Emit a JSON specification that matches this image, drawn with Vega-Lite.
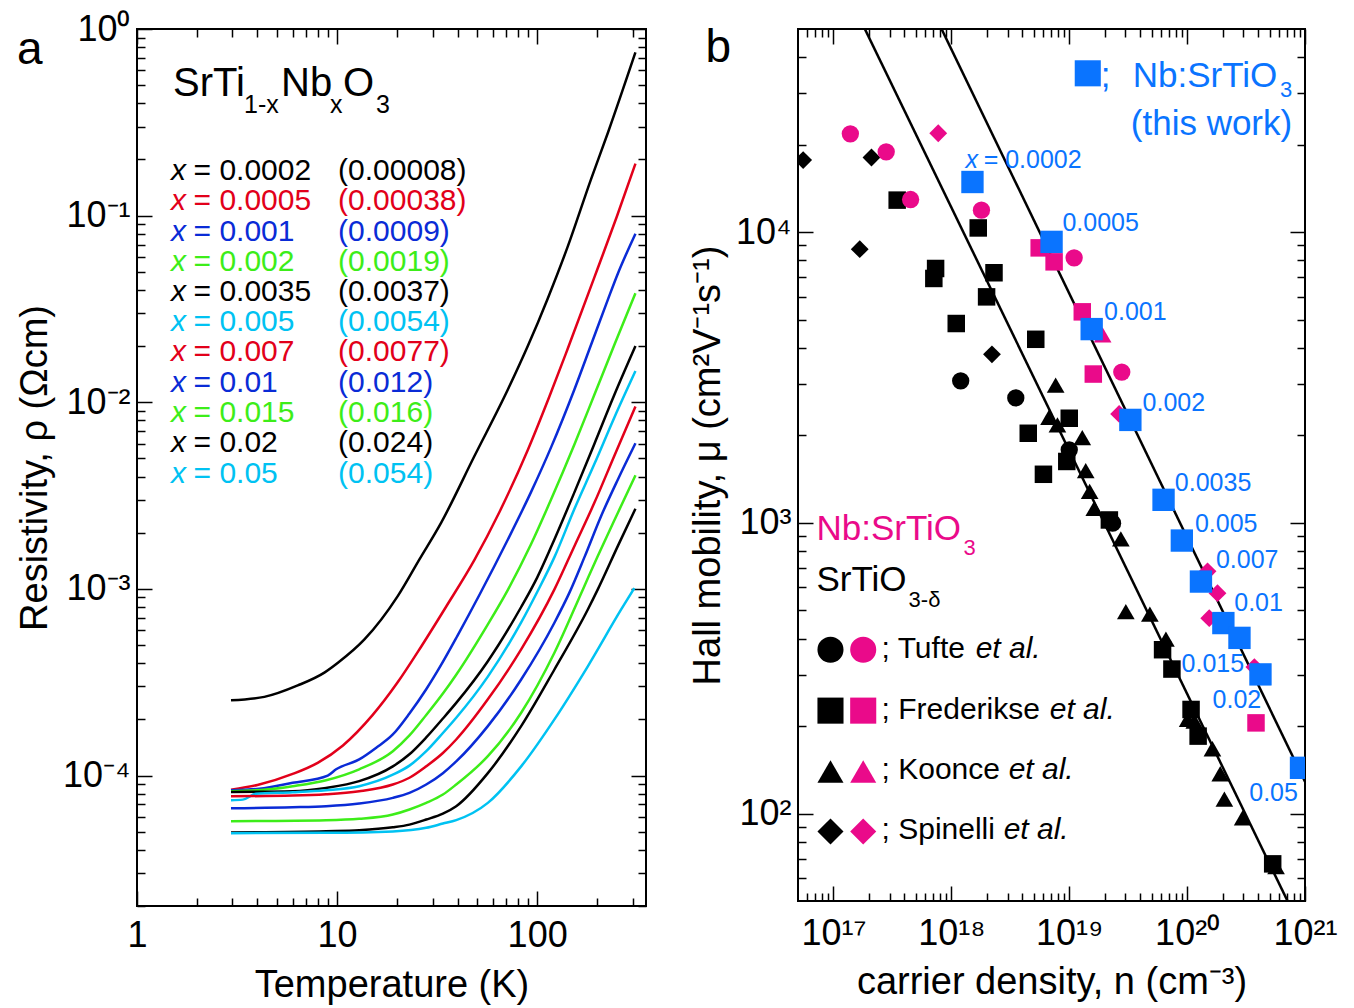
{
  "$schema": "https://vega.github.io/schema/vega-lite/v6.json",
  "background": "white",
  "padding": {"left": 15, "top": 10, "right": 5, "bottom": 5},
  "spacing": 40,
  "resolve": {"scale": {"color": "independent", "shape": "independent", "size": "independent"}},
  "config": {
    "font": "Liberation Sans",
    "view": {"stroke": "black", "strokeWidth": 2},
    "axis": {"labelFont": "Liberation Sans", "titleFont": "Liberation Sans", "labelFontSize": 36, "titleFontSize": 38, "titleFontWeight": "normal", "labelColor": "black", "titleColor": "black", "tickColor": "black", "tickWidth": 1.5, "grid": false, "domain": false, "labelOverlap": false, "labelFlush": false},
    "text": {"font": "Liberation Sans"}
  },
  "datasets": {
    "curves": [
      {"s": "0.0002", "T": 2.95, "rho": 2.53e-4}, {"s": "0.0002", "T": 4.33, "rho": 2.64e-4}, {"s": "0.0002", "T": 6.36, "rho": 3.04e-4}, {"s": "0.0002", "T": 8.64, "rho": 3.56e-4}, {"s": "0.0002", "T": 10.1, "rho": 4.02e-4}, {"s": "0.0002", "T": 13.7, "rho": 5.36e-4}, {"s": "0.0002", "T": 20.1, "rho": 9.15e-4}, {"s": "0.0002", "T": 25.8, "rho": 1.44e-3}, {"s": "0.0002", "T": 33.1, "rho": 2.26e-3}, {"s": "0.0002", "T": 48.6, "rho": 5.15e-3}, {"s": "0.0002", "T": 71.4, "rho": 0.0117}, {"s": "0.0002", "T": 89.8, "rho": 0.0200}, {"s": "0.0002", "T": 100.8, "rho": 0.0267}, {"s": "0.0002", "T": 113, "rho": 0.036}, {"s": "0.0002", "T": 142, "rho": 0.068}, {"s": "0.0002", "T": 186, "rho": 0.157}, {"s": "0.0002", "T": 226, "rho": 0.279}, {"s": "0.0002", "T": 310, "rho": 0.750},
      {"s": "0.0005", "T": 2.95, "rho": 8.4e-5}, {"s": "0.0005", "T": 4, "rho": 8.9e-5}, {"s": "0.0005", "T": 6, "rho": 1.02e-4}, {"s": "0.0005", "T": 8, "rho": 1.17e-4}, {"s": "0.0005", "T": 10.7, "rho": 1.45e-4}, {"s": "0.0005", "T": 15, "rho": 2.1e-4}, {"s": "0.0005", "T": 20, "rho": 3.14e-4}, {"s": "0.0005", "T": 26.3, "rho": 4.9e-4}, {"s": "0.0005", "T": 35, "rho": 8.0e-4}, {"s": "0.0005", "T": 48.6, "rho": 1.43e-3}, {"s": "0.0005", "T": 65, "rho": 2.6e-3}, {"s": "0.0005", "T": 89.8, "rho": 5.55e-3}, {"s": "0.0005", "T": 115, "rho": 0.0107}, {"s": "0.0005", "T": 142, "rho": 0.0193}, {"s": "0.0005", "T": 200, "rho": 0.0516}, {"s": "0.0005", "T": 250, "rho": 0.0986}, {"s": "0.0005", "T": 310, "rho": 0.19},
      {"s": "0.001", "T": 2.95, "rho": 8.34e-5}, {"s": "0.001", "T": 4.09, "rho": 8.49e-5}, {"s": "0.001", "T": 6.0, "rho": 9.14e-5}, {"s": "0.001", "T": 8.98, "rho": 1.0e-4}, {"s": "0.001", "T": 9.89, "rho": 1.08e-4}, {"s": "0.001", "T": 12.9, "rho": 1.22e-4}, {"s": "0.001", "T": 15.7, "rho": 1.41e-4}, {"s": "0.001", "T": 19.0, "rho": 1.66e-4}, {"s": "0.001", "T": 23.0, "rho": 2.15e-4}, {"s": "0.001", "T": 27.9, "rho": 2.9e-4}, {"s": "0.001", "T": 33, "rho": 3.89e-4}, {"s": "0.001", "T": 40, "rho": 5.62e-4}, {"s": "0.001", "T": 51.5, "rho": 9.3e-4}, {"s": "0.001", "T": 71.4, "rho": 1.84e-3}, {"s": "0.001", "T": 93.3, "rho": 3.31e-3}, {"s": "0.001", "T": 117.5, "rho": 5.75e-3}, {"s": "0.001", "T": 153.7, "rho": 0.01175}, {"s": "0.001", "T": 186.2, "rho": 0.0204}, {"s": "0.001", "T": 225.7, "rho": 0.0355}, {"s": "0.001", "T": 253.3, "rho": 0.049}, {"s": "0.001", "T": 310, "rho": 0.08},
      {"s": "0.002", "T": 2.95, "rho": 8.25e-5}, {"s": "0.002", "T": 4.42, "rho": 8.41e-5}, {"s": "0.002", "T": 6.0, "rho": 8.77e-5}, {"s": "0.002", "T": 8.81, "rho": 9.44e-5}, {"s": "0.002", "T": 12.9, "rho": 1.08e-4}, {"s": "0.002", "T": 19.0, "rho": 1.35e-4}, {"s": "0.002", "T": 23.0, "rho": 1.64e-4}, {"s": "0.002", "T": 27.9, "rho": 2.11e-4}, {"s": "0.002", "T": 33.8, "rho": 2.75e-4}, {"s": "0.002", "T": 39.4, "rho": 3.47e-4}, {"s": "0.002", "T": 56.7, "rho": 6.46e-4}, {"s": "0.002", "T": 71.4, "rho": 9.89e-4}, {"s": "0.002", "T": 93.3, "rho": 1.74e-3}, {"s": "0.002", "T": 117.5, "rho": 3.02e-3}, {"s": "0.002", "T": 153.7, "rho": 5.96e-3}, {"s": "0.002", "T": 193.4, "rho": 0.011}, {"s": "0.002", "T": 243.5, "rho": 0.0204}, {"s": "0.002", "T": 310, "rho": 0.0384},
      {"s": "0.0035", "T": 2.95, "rho": 8.17e-5}, {"s": "0.0035", "T": 6.0, "rho": 8.24e-5}, {"s": "0.0035", "T": 8.81, "rho": 8.59e-5}, {"s": "0.0035", "T": 12.9, "rho": 9.33e-5}, {"s": "0.0035", "T": 19.0, "rho": 1.12e-4}, {"s": "0.0035", "T": 23.0, "rho": 1.30e-4}, {"s": "0.0035", "T": 27.9, "rho": 1.60e-4}, {"s": "0.0035", "T": 33.8, "rho": 2.02e-4}, {"s": "0.0035", "T": 39.4, "rho": 2.45e-4}, {"s": "0.0035", "T": 56.7, "rho": 4.1e-4}, {"s": "0.0035", "T": 83.2, "rho": 8.0e-4}, {"s": "0.0035", "T": 100, "rho": 1.15e-3}, {"s": "0.0035", "T": 117.5, "rho": 1.68e-3}, {"s": "0.0035", "T": 153.7, "rho": 3.3e-3}, {"s": "0.0035", "T": 193.4, "rho": 6.0e-3}, {"s": "0.0035", "T": 243.5, "rho": 0.011}, {"s": "0.0035", "T": 310, "rho": 0.0200},
      {"s": "0.005", "T": 2.95, "rho": 7.38e-5}, {"s": "0.005", "T": 3.38, "rho": 7.43e-5}, {"s": "0.005", "T": 3.93, "rho": 7.98e-5}, {"s": "0.005", "T": 6.0, "rho": 8.13e-5}, {"s": "0.005", "T": 8.81, "rho": 8.34e-5}, {"s": "0.005", "T": 12.9, "rho": 8.77e-5}, {"s": "0.005", "T": 19.0, "rho": 1.01e-4}, {"s": "0.005", "T": 23.0, "rho": 1.13e-4}, {"s": "0.005", "T": 27.9, "rho": 1.35e-4}, {"s": "0.005", "T": 33.8, "rho": 1.69e-4}, {"s": "0.005", "T": 39.4, "rho": 2.04e-4}, {"s": "0.005", "T": 56.7, "rho": 3.39e-4}, {"s": "0.005", "T": 83.2, "rho": 6.61e-4}, {"s": "0.005", "T": 100.8, "rho": 9.77e-4}, {"s": "0.005", "T": 122, "rho": 1.48e-3}, {"s": "0.005", "T": 153.7, "rho": 2.69e-3}, {"s": "0.005", "T": 193.4, "rho": 4.68e-3}, {"s": "0.005", "T": 243.5, "rho": 8.32e-3}, {"s": "0.005", "T": 310, "rho": 0.0147},
      {"s": "0.007", "T": 2.95, "rho": 7.74e-5}, {"s": "0.007", "T": 6.0, "rho": 7.81e-5}, {"s": "0.007", "T": 8.81, "rho": 7.94e-5}, {"s": "0.007", "T": 12.9, "rho": 8.24e-5}, {"s": "0.007", "T": 19.0, "rho": 8.95e-5}, {"s": "0.007", "T": 23.0, "rho": 9.73e-5}, {"s": "0.007", "T": 27.9, "rho": 1.12e-4}, {"s": "0.007", "T": 33.8, "rho": 1.32e-4}, {"s": "0.007", "T": 39.4, "rho": 1.56e-4}, {"s": "0.007", "T": 56.7, "rho": 2.56e-4}, {"s": "0.007", "T": 83.2, "rho": 4.74e-4}, {"s": "0.007", "T": 122, "rho": 9.94e-4}, {"s": "0.007", "T": 153.7, "rho": 1.70e-3}, {"s": "0.007", "T": 193.4, "rho": 2.90e-3}, {"s": "0.007", "T": 243.5, "rho": 5.19e-3}, {"s": "0.007", "T": 310, "rho": 9.48e-3},
      {"s": "0.01", "T": 2.95, "rho": 6.68e-5}, {"s": "0.01", "T": 6.0, "rho": 6.76e-5}, {"s": "0.01", "T": 8.81, "rho": 6.85e-5}, {"s": "0.01", "T": 12.9, "rho": 7.08e-5}, {"s": "0.01", "T": 19.0, "rho": 7.59e-5}, {"s": "0.01", "T": 23.0, "rho": 8.07e-5}, {"s": "0.01", "T": 27.9, "rho": 8.95e-5}, {"s": "0.01", "T": 33.8, "rho": 1.03e-4}, {"s": "0.01", "T": 39.4, "rho": 1.19e-4}, {"s": "0.01", "T": 56.7, "rho": 1.84e-4}, {"s": "0.01", "T": 83.2, "rho": 3.27e-4}, {"s": "0.01", "T": 122, "rho": 6.59e-4}, {"s": "0.01", "T": 145, "rho": 9.55e-4}, {"s": "0.01", "T": 172.4, "rho": 1.48e-3}, {"s": "0.01", "T": 208.9, "rho": 2.46e-3}, {"s": "0.01", "T": 253.3, "rho": 3.86e-3}, {"s": "0.01", "T": 310, "rho": 6.03e-3},
      {"s": "0.015", "T": 2.95, "rho": 5.69e-5}, {"s": "0.015", "T": 8.81, "rho": 5.76e-5}, {"s": "0.015", "T": 12.9, "rho": 5.86e-5}, {"s": "0.015", "T": 19.0, "rho": 6.18e-5}, {"s": "0.015", "T": 23.0, "rho": 6.58e-5}, {"s": "0.015", "T": 27.9, "rho": 7.14e-5}, {"s": "0.015", "T": 33.8, "rho": 7.91e-5}, {"s": "0.015", "T": 39.4, "rho": 8.95e-5}, {"s": "0.015", "T": 56.7, "rho": 1.27e-4}, {"s": "0.015", "T": 83.2, "rho": 2.17e-4}, {"s": "0.015", "T": 122, "rho": 4.55e-4}, {"s": "0.015", "T": 169.3, "rho": 9.94e-4}, {"s": "0.015", "T": 201, "rho": 1.50e-3}, {"s": "0.015", "T": 253.3, "rho": 2.56e-3}, {"s": "0.015", "T": 310, "rho": 4.06e-3},
      {"s": "0.02", "T": 2.95, "rho": 4.95e-5}, {"s": "0.02", "T": 8.81, "rho": 5.03e-5}, {"s": "0.02", "T": 12.9, "rho": 5.09e-5}, {"s": "0.02", "T": 19.0, "rho": 5.28e-5}, {"s": "0.02", "T": 23.0, "rho": 5.46e-5}, {"s": "0.02", "T": 27.9, "rho": 5.81e-5}, {"s": "0.02", "T": 33.8, "rho": 6.25e-5}, {"s": "0.02", "T": 39.4, "rho": 6.85e-5}, {"s": "0.02", "T": 56.7, "rho": 1.03e-4}, {"s": "0.02", "T": 83.2, "rho": 1.84e-4}, {"s": "0.02", "T": 122, "rho": 3.70e-4}, {"s": "0.02", "T": 179.2, "rho": 7.76e-4}, {"s": "0.02", "T": 201, "rho": 9.94e-4}, {"s": "0.02", "T": 253.3, "rho": 1.70e-3}, {"s": "0.02", "T": 310, "rho": 2.69e-3},
      {"s": "0.05", "T": 2.95, "rho": 4.91e-5}, {"s": "0.05", "T": 8.81, "rho": 4.93e-5}, {"s": "0.05", "T": 19.0, "rho": 5.02e-5}, {"s": "0.05", "T": 27.9, "rho": 5.25e-5}, {"s": "0.05", "T": 33.8, "rho": 5.53e-5}, {"s": "0.05", "T": 39.4, "rho": 5.77e-5}, {"s": "0.05", "T": 56.7, "rho": 7.14e-5}, {"s": "0.05", "T": 83.2, "rho": 1.12e-4}, {"s": "0.05", "T": 122, "rho": 2.0e-4}, {"s": "0.05", "T": 179.2, "rho": 3.85e-4}, {"s": "0.05", "T": 263, "rho": 7.76e-4}, {"s": "0.05", "T": 306, "rho": 1.01e-3}
    ],
    "titleA": [
      {"text": "SrTi", "T": 1.514, "rho": 0.4357},
      {"text": "Nb", "T": 5.248, "rho": 0.4357},
      {"text": "O", "T": 10.72, "rho": 0.4357}
    ],
    "titleAsub": [
      {"text": "1-x", "T": 3.428, "rho": 0.3544},
      {"text": "x", "T": 9.226, "rho": 0.3544},
      {"text": "3", "T": 15.67, "rho": 0.3544}
    ],
    "legA": [
      {"s": "0.0002", "eq": "= 0.0002", "paren": "(0.00008)", "Tx": 1.479, "Teq": 1.917, "Tp": 10.12, "rho": 0.1550},
      {"s": "0.0005", "eq": "= 0.0005", "paren": "(0.00038)", "Tx": 1.479, "Teq": 1.917, "Tp": 10.12, "rho": 0.1070},
      {"s": "0.001", "eq": "= 0.001", "paren": "(0.0009)", "Tx": 1.479, "Teq": 1.917, "Tp": 10.12, "rho": 0.07301},
      {"s": "0.002", "eq": "= 0.002", "paren": "(0.0019)", "Tx": 1.479, "Teq": 1.917, "Tp": 10.12, "rho": 0.05041},
      {"s": "0.0035", "eq": "= 0.0035", "paren": "(0.0037)", "Tx": 1.479, "Teq": 1.917, "Tp": 10.12, "rho": 0.03479},
      {"s": "0.005", "eq": "= 0.005", "paren": "(0.0054)", "Tx": 1.479, "Teq": 1.917, "Tp": 10.12, "rho": 0.02403},
      {"s": "0.007", "eq": "= 0.007", "paren": "(0.0077)", "Tx": 1.479, "Teq": 1.917, "Tp": 10.12, "rho": 0.01659},
      {"s": "0.01", "eq": "= 0.01", "paren": "(0.012)", "Tx": 1.479, "Teq": 1.917, "Tp": 10.12, "rho": 0.01131},
      {"s": "0.015", "eq": "= 0.015", "paren": "(0.016)", "Tx": 1.479, "Teq": 1.917, "Tp": 10.12, "rho": 0.007812},
      {"s": "0.02", "eq": "= 0.02", "paren": "(0.024)", "Tx": 1.479, "Teq": 1.917, "Tp": 10.12, "rho": 0.005394},
      {"s": "0.05", "eq": "= 0.05", "paren": "(0.054)", "Tx": 1.479, "Teq": 1.917, "Tp": 10.12, "rho": 0.003678}
    ],
    "labelA": [{"text": "a", "T": 0.2512, "rho": 0.6494}],
    "fits": [
      {"fit": "SrTiO3-δ", "n": 1e17, "mu": 83500}, {"fit": "SrTiO3-δ", "n": 1e21, "mu": 37.6},
      {"fit": "Nb:SrTiO3", "n": 3.162e17, "mu": 112000}, {"fit": "Nb:SrTiO3", "n": 1e21, "mu": 128.6}
    ],
    "lit": [
      {"src": "Spinelli", "mat": "SrTiO3-δ", "n": 5.53e16, "mu": 17700}, {"src": "Spinelli", "mat": "SrTiO3-δ", "n": 2.10e17, "mu": 18070}, {"src": "Spinelli", "mat": "SrTiO3-δ", "n": 1.67e17, "mu": 8740}, {"src": "Spinelli", "mat": "SrTiO3-δ", "n": 2.21e18, "mu": 3800},
      {"src": "Tufte", "mat": "SrTiO3-δ", "n": 1.20e18, "mu": 3080}, {"src": "Tufte", "mat": "SrTiO3-δ", "n": 3.52e18, "mu": 2690}, {"src": "Tufte", "mat": "SrTiO3-δ", "n": 1.0e19, "mu": 1783}, {"src": "Tufte", "mat": "SrTiO3-δ", "n": 2.33e19, "mu": 997},
      {"src": "Frederikse", "mat": "SrTiO3-δ", "n": 3.47e17, "mu": 12890}, {"src": "Frederikse", "mat": "SrTiO3-δ", "n": 1.69e18, "mu": 10340}, {"src": "Frederikse", "mat": "SrTiO3-δ", "n": 7.35e17, "mu": 7500}, {"src": "Frederikse", "mat": "SrTiO3-δ", "n": 7.1e17, "mu": 6930}, {"src": "Frederikse", "mat": "SrTiO3-δ", "n": 2.30e18, "mu": 7250}, {"src": "Frederikse", "mat": "SrTiO3-δ", "n": 1.99e18, "mu": 5990}, {"src": "Frederikse", "mat": "SrTiO3-δ", "n": 1.10e18, "mu": 4850}, {"src": "Frederikse", "mat": "SrTiO3-δ", "n": 5.2e18, "mu": 4280}, {"src": "Frederikse", "mat": "SrTiO3-δ", "n": 1.0e19, "mu": 2290}, {"src": "Frederikse", "mat": "SrTiO3-δ", "n": 4.49e18, "mu": 2033}, {"src": "Frederikse", "mat": "SrTiO3-δ", "n": 9.53e18, "mu": 1626}, {"src": "Frederikse", "mat": "SrTiO3-δ", "n": 6.04e18, "mu": 1469}, {"src": "Frederikse", "mat": "SrTiO3-δ", "n": 2.19e19, "mu": 1023}, {"src": "Frederikse", "mat": "SrTiO3-δ", "n": 6.19e19, "mu": 366}, {"src": "Frederikse", "mat": "SrTiO3-δ", "n": 7.43e19, "mu": 314}, {"src": "Frederikse", "mat": "SrTiO3-δ", "n": 1.08e20, "mu": 228}, {"src": "Frederikse", "mat": "SrTiO3-δ", "n": 1.24e20, "mu": 184.6},
      {"src": "Koonce", "mat": "SrTiO3-δ", "n": 7.67e18, "mu": 2979}, {"src": "Koonce", "mat": "SrTiO3-δ", "n": 6.74e18, "mu": 2308}, {"src": "Koonce", "mat": "SrTiO3-δ", "n": 7.94e18, "mu": 2172}, {"src": "Koonce", "mat": "SrTiO3-δ", "n": 1.29e19, "mu": 1965}, {"src": "Koonce", "mat": "SrTiO3-δ", "n": 1.38e19, "mu": 1513}, {"src": "Koonce", "mat": "SrTiO3-δ", "n": 1.49e19, "mu": 1282}, {"src": "Koonce", "mat": "SrTiO3-δ", "n": 1.63e19, "mu": 1121}, {"src": "Koonce", "mat": "SrTiO3-δ", "n": 2.74e19, "mu": 880}, {"src": "Koonce", "mat": "SrTiO3-δ", "n": 3.02e19, "mu": 495}, {"src": "Koonce", "mat": "SrTiO3-δ", "n": 4.83e19, "mu": 485}, {"src": "Koonce", "mat": "SrTiO3-δ", "n": 6.61e19, "mu": 398}, {"src": "Koonce", "mat": "SrTiO3-δ", "n": 1.01e20, "mu": 211}, {"src": "Koonce", "mat": "SrTiO3-δ", "n": 1.15e20, "mu": 208}, {"src": "Koonce", "mat": "SrTiO3-δ", "n": 1.64e20, "mu": 167}, {"src": "Koonce", "mat": "SrTiO3-δ", "n": 1.91e20, "mu": 137}, {"src": "Koonce", "mat": "SrTiO3-δ", "n": 2.07e20, "mu": 112}, {"src": "Koonce", "mat": "SrTiO3-δ", "n": 2.96e20, "mu": 96.7}, {"src": "Koonce", "mat": "SrTiO3-δ", "n": 5.68e20, "mu": 65.6},
      {"src": "Frederikse", "mat": "SrTiO3-δ", "n": 5.32e20, "mu": 67.1},
      {"src": "Tufte", "mat": "Nb:SrTiO3", "n": 1.39e17, "mu": 21800}, {"src": "Tufte", "mat": "Nb:SrTiO3", "n": 2.80e17, "mu": 18900}, {"src": "Tufte", "mat": "Nb:SrTiO3", "n": 4.51e17, "mu": 12950}, {"src": "Tufte", "mat": "Nb:SrTiO3", "n": 1.80e18, "mu": 11900}, {"src": "Tufte", "mat": "Nb:SrTiO3", "n": 1.10e19, "mu": 8160}, {"src": "Tufte", "mat": "Nb:SrTiO3", "n": 2.79e19, "mu": 3300},
      {"src": "Frederikse", "mat": "Nb:SrTiO3", "n": 5.56e18, "mu": 8830}, {"src": "Frederikse", "mat": "Nb:SrTiO3", "n": 7.44e18, "mu": 7905}, {"src": "Frederikse", "mat": "Nb:SrTiO3", "n": 1.29e19, "mu": 5320}, {"src": "Frederikse", "mat": "Nb:SrTiO3", "n": 1.60e19, "mu": 3250}, {"src": "Frederikse", "mat": "Nb:SrTiO3", "n": 3.84e20, "mu": 205},
      {"src": "Koonce", "mat": "Nb:SrTiO3", "n": 1.92e19, "mu": 4430},
      {"src": "Spinelli", "mat": "Nb:SrTiO3", "n": 7.74e17, "mu": 21900}, {"src": "Spinelli", "mat": "Nb:SrTiO3", "n": 2.65e19, "mu": 2370}, {"src": "Spinelli", "mat": "Nb:SrTiO3", "n": 1.49e20, "mu": 681}, {"src": "Spinelli", "mat": "Nb:SrTiO3", "n": 1.81e20, "mu": 573}, {"src": "Spinelli", "mat": "Nb:SrTiO3", "n": 1.54e20, "mu": 470}, {"src": "Spinelli", "mat": "Nb:SrTiO3", "n": 3.72e20, "mu": 319}
    ],
    "thiswork": [
      {"x": "0.0002", "n": 1.51e18, "mu": 14880}, {"x": "0.0005", "n": 7.08e18, "mu": 9260}, {"x": "0.001", "n": 1.55e19, "mu": 4640}, {"x": "0.002", "n": 3.30e19, "mu": 2260}, {"x": "0.0035", "n": 6.31e19, "mu": 1200}, {"x": "0.005", "n": 9.02e19, "mu": 869}, {"x": "0.007", "n": 1.31e20, "mu": 628}, {"x": "0.01", "n": 2.03e20, "mu": 452}, {"x": "0.015", "n": 2.78e20, "mu": 402}, {"x": "0.02", "n": 4.19e20, "mu": 301}, {"x": "0.05", "n": 9.25e20, "mu": 143.6}
    ],
    "legmarks": [
      {"src": "Tufte", "mat": "SrTiO3-δ", "n": 9.43e16, "mu": 366.1}, {"src": "Tufte", "mat": "Nb:SrTiO3", "n": 1.787e17, "mu": 366.1},
      {"src": "Frederikse", "mat": "SrTiO3-δ", "n": 9.43e16, "mu": 225.9}, {"src": "Frederikse", "mat": "Nb:SrTiO3", "n": 1.787e17, "mu": 225.9},
      {"src": "Koonce", "mat": "SrTiO3-δ", "n": 9.43e16, "mu": 139.4}, {"src": "Koonce", "mat": "Nb:SrTiO3", "n": 1.787e17, "mu": 139.4},
      {"src": "Spinelli", "mat": "SrTiO3-δ", "n": 9.43e16, "mu": 86.75}, {"src": "Spinelli", "mat": "Nb:SrTiO3", "n": 1.787e17, "mu": 86.75},
      {"src": "this work", "mat": "this work", "n": 1.436e19, "mu": 35200}
    ],
    "bluex": [{"text": "x", "n": 1.321e18, "mu": 16640}],
    "bluelab": [
      {"text": "= 0.0002", "n": 1.879e18, "mu": 16640}, {"text": "0.0005", "n": 8.75e18, "mu": 10080}, {"text": "0.001", "n": 1.975e19, "mu": 4985}, {"text": "0.002", "n": 4.19e19, "mu": 2426}, {"text": "0.0035", "n": 7.87e19, "mu": 1291}, {"text": "0.005", "n": 1.164e20, "mu": 933}, {"text": "0.007", "n": 1.755e20, "mu": 699}, {"text": "0.01", "n": 2.51e20, "mu": 495.5}, {"text": "0.015", "n": 8.97e19, "mu": 305.9}, {"text": "0.02", "n": 1.644e20, "mu": 230.8}, {"text": "0.05", "n": 3.365e20, "mu": 110.2}
    ],
    "bigtext": [
      {"text": ";", "mat": "this work", "n": 1.851e19, "mu": 31580}, {"text": "Nb:SrTiO", "mat": "this work", "n": 3.46e19, "mu": 31580}, {"text": "(this work)", "mat": "this work", "n": 3.327e19, "mu": 21544},
      {"text": "Nb:SrTiO", "mat": "Nb:SrTiO3", "n": 7.17e16, "mu": 874.3}, {"text": "SrTiO", "mat": "SrTiO3-δ", "n": 7.17e16, "mu": 583.9}
    ],
    "subtext": [
      {"text": "3", "mat": "this work", "n": 6.133e20, "mu": 29100}, {"text": "3", "mat": "Nb:SrTiO3", "n": 1.27e18, "mu": 776.3}, {"text": "3-δ", "mat": "SrTiO3-δ", "n": 4.335e17, "mu": 514.4}
    ],
    "legtext": [
      {"text": "; Tufte", "n": 2.556e17, "mu": 342.8}, {"text": "; Frederikse", "n": 2.556e17, "mu": 211.5}, {"text": "; Koonce", "n": 2.556e17, "mu": 131.6}, {"text": "; Spinelli", "n": 2.556e17, "mu": 81.4}
    ],
    "etal": [
      {"text": "et al.", "n": 1.607e18, "mu": 342.8}, {"text": "et al.", "n": 6.83e18, "mu": 211.5}, {"text": "et al.", "n": 3.063e18, "mu": 131.6}, {"text": "et al.", "n": 2.778e18, "mu": 81.4}
    ],
    "labelB": [{"text": "b", "n": 8.19e15, "mu": 38370}]
  },
  "hconcat": [
    {
      "width": 509,
      "height": 877,
      "resolve": {"axis": {"x": "independent", "y": "independent"}},
      "layer": [
        {
          "data": {"name": "curves"},
          "mark": {"type": "line", "strokeWidth": 2.5, "interpolate": "monotone", "clip": true},
          "encoding": {
            "x": {"field": "T", "type": "quantitative", "scale": {"type": "log", "domain": [1, 350], "nice": false},
                  "axis": {"orient": "bottom", "values": [1, 10, 100], "tickSize": -15, "labelPadding": 27, "labelExpr": "format(datum.value, 'd')", "title": "Temperature (K)", "titlePadding": 13}},
            "y": {"field": "rho", "type": "quantitative", "scale": {"type": "log", "domain": [2e-5, 1], "nice": false},
                  "axis": {"orient": "left", "values": [0.0001, 0.001, 0.01, 0.1, 1], "tickSize": -15, "labelPadding": 22, "labelExpr": "'10' + ['⁻⁴','⁻³','⁻²','⁻¹','⁰'][round(log(datum.value)/LN10) + 4]", "title": "Resistivity, ρ (Ωcm)", "titlePadding": 8}},
            "color": {"field": "s", "type": "nominal", "legend": null,
                      "scale": {"domain": ["0.0002", "0.0005", "0.001", "0.002", "0.0035", "0.005", "0.007", "0.01", "0.015", "0.02", "0.05"],
                                "range": ["#000000", "#e2001a", "#0a2bd6", "#3ded19", "#000000", "#00c2f2", "#e2001a", "#0a2bd6", "#3ded19", "#000000", "#00c2f2"]}}
          }
        },
        {
          "data": {"name": "titleA"},
          "mark": {"type": "text", "align": "left", "baseline": "alphabetic", "fontSize": 40, "color": "black"},
          "encoding": {
            "x": {"field": "T", "type": "quantitative", "scale": {"type": "log", "domain": [1, 350], "nice": false},
                  "axis": {"orient": "bottom", "values": [2, 3, 4, 5, 6, 7, 8, 9, 20, 30, 40, 50, 60, 70, 80, 90, 200, 300], "tickSize": -8, "labels": false, "title": null}},
            "y": {"field": "rho", "type": "quantitative", "scale": {"type": "log", "domain": [2e-5, 1], "nice": false},
                  "axis": {"orient": "left", "values": [2e-5, 3e-5, 4e-5, 5e-5, 6e-5, 7e-5, 8e-5, 9e-5, 2e-4, 3e-4, 4e-4, 5e-4, 6e-4, 7e-4, 8e-4, 9e-4, 2e-3, 3e-3, 4e-3, 5e-3, 6e-3, 7e-3, 8e-3, 9e-3, 0.02, 0.03, 0.04, 0.05, 0.06, 0.07, 0.08, 0.09, 0.2, 0.3, 0.4, 0.5, 0.6, 0.7, 0.8, 0.9], "tickSize": -8, "labels": false, "title": null}},
            "text": {"field": "text"}
          }
        },
        {
          "data": {"name": "titleAsub"},
          "mark": {"type": "text", "align": "left", "baseline": "alphabetic", "fontSize": 25, "color": "black"},
          "encoding": {
            "x": {"field": "T", "type": "quantitative", "scale": {"type": "log", "domain": [1, 350], "nice": false},
                  "axis": {"orient": "top", "values": [1, 10, 100], "tickSize": -15, "labels": false, "title": null}},
            "y": {"field": "rho", "type": "quantitative", "scale": {"type": "log", "domain": [2e-5, 1], "nice": false},
                  "axis": {"orient": "right", "values": [0.0001, 0.001, 0.01, 0.1, 1], "tickSize": -15, "labels": false, "title": null}},
            "text": {"field": "text"}
          }
        },
        {
          "data": {"name": "legA"},
          "mark": {"type": "text", "align": "left", "baseline": "alphabetic", "fontSize": 30, "fontStyle": "italic"},
          "encoding": {
            "x": {"field": "Tx", "type": "quantitative", "scale": {"type": "log", "domain": [1, 350], "nice": false},
                  "axis": {"orient": "top", "values": [2, 3, 4, 5, 6, 7, 8, 9, 20, 30, 40, 50, 60, 70, 80, 90, 200, 300], "tickSize": -8, "labels": false, "title": null}},
            "y": {"field": "rho", "type": "quantitative", "scale": {"type": "log", "domain": [2e-5, 1], "nice": false},
                  "axis": {"orient": "right", "values": [2e-5, 3e-5, 4e-5, 5e-5, 6e-5, 7e-5, 8e-5, 9e-5, 2e-4, 3e-4, 4e-4, 5e-4, 6e-4, 7e-4, 8e-4, 9e-4, 2e-3, 3e-3, 4e-3, 5e-3, 6e-3, 7e-3, 8e-3, 9e-3, 0.02, 0.03, 0.04, 0.05, 0.06, 0.07, 0.08, 0.09, 0.2, 0.3, 0.4, 0.5, 0.6, 0.7, 0.8, 0.9], "tickSize": -8, "labels": false, "title": null}},
            "text": {"value": "x"},
            "color": {"field": "s", "type": "nominal", "legend": null}
          }
        },
        {
          "data": {"name": "legA"},
          "mark": {"type": "text", "align": "left", "baseline": "alphabetic", "fontSize": 30},
          "encoding": {
            "x": {"field": "Teq", "type": "quantitative", "scale": {"type": "log", "domain": [1, 350], "nice": false}, "axis": null},
            "y": {"field": "rho", "type": "quantitative", "scale": {"type": "log", "domain": [2e-5, 1], "nice": false}, "axis": null},
            "text": {"field": "eq"},
            "color": {"field": "s", "type": "nominal", "legend": null}
          }
        },
        {
          "data": {"name": "legA"},
          "mark": {"type": "text", "align": "left", "baseline": "alphabetic", "fontSize": 30},
          "encoding": {
            "x": {"field": "Tp", "type": "quantitative", "scale": {"type": "log", "domain": [1, 350], "nice": false}, "axis": null},
            "y": {"field": "rho", "type": "quantitative", "scale": {"type": "log", "domain": [2e-5, 1], "nice": false}, "axis": null},
            "text": {"field": "paren"},
            "color": {"field": "s", "type": "nominal", "legend": null}
          }
        },
        {
          "data": {"name": "labelA"},
          "mark": {"type": "text", "align": "left", "baseline": "alphabetic", "fontSize": 46, "color": "black"},
          "encoding": {
            "x": {"field": "T", "type": "quantitative", "scale": {"type": "log", "domain": [1, 350], "nice": false}, "axis": null},
            "y": {"field": "rho", "type": "quantitative", "scale": {"type": "log", "domain": [2e-5, 1], "nice": false}, "axis": null},
            "text": {"field": "text"}
          }
        }
      ]
    },
    {
      "width": 507,
      "height": 872,
      "resolve": {"axis": {"x": "independent", "y": "independent"}},
      "layer": [
        {
          "data": {"name": "fits"},
          "mark": {"type": "line", "strokeWidth": 2.5, "color": "black", "clip": true},
          "encoding": {
            "x": {"field": "n", "type": "quantitative", "scale": {"type": "log", "domain": [5e16, 1e21], "nice": false},
                  "axis": {"orient": "bottom", "values": [1e17, 1e18, 1e19, 1e20, 1e21], "tickSize": -15, "labelPadding": 30, "labelExpr": "'10' + ['¹⁷','¹⁸','¹⁹','²⁰','²¹'][round(log(datum.value)/LN10) - 17]", "title": "carrier density, n (cm⁻³)", "titlePadding": 12}},
            "y": {"field": "mu", "type": "quantitative", "scale": {"type": "log", "domain": [50, 50000], "nice": false},
                  "axis": {"orient": "left", "values": [100, 1000, 10000], "tickSize": -15, "labelPadding": 22, "labelExpr": "'10' + ['²','³','⁴'][round(log(datum.value)/LN10) - 2]", "title": "Hall mobility, μ (cm²V⁻¹s⁻¹)", "titlePadding": 8}},
            "detail": {"field": "fit", "type": "nominal"}
          }
        },
        {
          "data": {"name": "lit"},
          "mark": {"type": "point", "filled": true, "opacity": 1, "clip": true},
          "encoding": {
            "x": {"field": "n", "type": "quantitative", "scale": {"type": "log", "domain": [5e16, 1e21], "nice": false},
                  "axis": {"orient": "bottom", "values": [6e16, 7e16, 8e16, 9e16, 2e17, 3e17, 4e17, 5e17, 6e17, 7e17, 8e17, 9e17, 2e18, 3e18, 4e18, 5e18, 6e18, 7e18, 8e18, 9e18, 2e19, 3e19, 4e19, 5e19, 6e19, 7e19, 8e19, 9e19, 2e20, 3e20, 4e20, 5e20, 6e20, 7e20, 8e20, 9e20], "tickSize": -8, "labels": false, "title": null}},
            "y": {"field": "mu", "type": "quantitative", "scale": {"type": "log", "domain": [50, 50000], "nice": false},
                  "axis": {"orient": "left", "values": [60, 70, 80, 90, 200, 300, 400, 500, 600, 700, 800, 900, 2000, 3000, 4000, 5000, 6000, 7000, 8000, 9000, 20000, 30000, 40000], "tickSize": -8, "labels": false, "title": null}},
            "shape": {"field": "src", "type": "nominal", "legend": null, "scale": {"domain": ["Tufte", "Frederikse", "Koonce", "Spinelli", "this work"], "range": ["circle", "square", "triangle-up", "diamond", "square"]}},
            "size": {"field": "src", "type": "ordinal", "legend": null, "scale": {"domain": ["Tufte", "Frederikse", "Koonce", "Spinelli", "this work"], "range": [300, 324, 500, 441, 484]}},
            "color": {"field": "mat", "type": "nominal", "legend": null, "scale": {"domain": ["SrTiO3-δ", "Nb:SrTiO3", "this work"], "range": ["#000000", "#ea0a8a", "#0a74ff"]}}
          }
        },
        {
          "data": {"name": "thiswork"},
          "mark": {"type": "point", "filled": true, "opacity": 1, "shape": "square", "size": 500, "color": "#0a74ff", "clip": true},
          "encoding": {
            "x": {"field": "n", "type": "quantitative", "scale": {"type": "log", "domain": [5e16, 1e21], "nice": false},
                  "axis": {"orient": "top", "values": [1e17, 1e18, 1e19, 1e20, 1e21], "tickSize": -15, "labels": false, "title": null}},
            "y": {"field": "mu", "type": "quantitative", "scale": {"type": "log", "domain": [50, 50000], "nice": false},
                  "axis": {"orient": "right", "values": [100, 1000, 10000], "tickSize": -15, "labels": false, "title": null}}
          }
        },
        {
          "data": {"name": "legmarks"},
          "mark": {"type": "point", "filled": true, "opacity": 1, "size": 680},
          "encoding": {
            "x": {"field": "n", "type": "quantitative", "scale": {"type": "log", "domain": [5e16, 1e21], "nice": false},
                  "axis": {"orient": "top", "values": [6e16, 7e16, 8e16, 9e16, 2e17, 3e17, 4e17, 5e17, 6e17, 7e17, 8e17, 9e17, 2e18, 3e18, 4e18, 5e18, 6e18, 7e18, 8e18, 9e18, 2e19, 3e19, 4e19, 5e19, 6e19, 7e19, 8e19, 9e19, 2e20, 3e20, 4e20, 5e20, 6e20, 7e20, 8e20, 9e20], "tickSize": -8, "labels": false, "title": null}},
            "y": {"field": "mu", "type": "quantitative", "scale": {"type": "log", "domain": [50, 50000], "nice": false},
                  "axis": {"orient": "right", "values": [60, 70, 80, 90, 200, 300, 400, 500, 600, 700, 800, 900, 2000, 3000, 4000, 5000, 6000, 7000, 8000, 9000, 20000, 30000, 40000], "tickSize": -8, "labels": false, "title": null}},
            "shape": {"field": "src", "type": "nominal", "legend": null},
            "color": {"field": "mat", "type": "nominal", "legend": null}
          }
        },
        {
          "data": {"name": "bluex"},
          "mark": {"type": "text", "align": "left", "baseline": "alphabetic", "fontSize": 25, "fontStyle": "italic", "color": "#0a74ff"},
          "encoding": {
            "x": {"field": "n", "type": "quantitative", "scale": {"type": "log", "domain": [5e16, 1e21], "nice": false}, "axis": null},
            "y": {"field": "mu", "type": "quantitative", "scale": {"type": "log", "domain": [50, 50000], "nice": false}, "axis": null},
            "text": {"field": "text"}
          }
        },
        {
          "data": {"name": "bluelab"},
          "mark": {"type": "text", "align": "left", "baseline": "alphabetic", "fontSize": 25, "color": "#0a74ff"},
          "encoding": {
            "x": {"field": "n", "type": "quantitative", "scale": {"type": "log", "domain": [5e16, 1e21], "nice": false}, "axis": null},
            "y": {"field": "mu", "type": "quantitative", "scale": {"type": "log", "domain": [50, 50000], "nice": false}, "axis": null},
            "text": {"field": "text"}
          }
        },
        {
          "data": {"name": "bigtext"},
          "mark": {"type": "text", "align": "left", "baseline": "alphabetic", "fontSize": 35},
          "encoding": {
            "x": {"field": "n", "type": "quantitative", "scale": {"type": "log", "domain": [5e16, 1e21], "nice": false}, "axis": null},
            "y": {"field": "mu", "type": "quantitative", "scale": {"type": "log", "domain": [50, 50000], "nice": false}, "axis": null},
            "text": {"field": "text"},
            "color": {"field": "mat", "type": "nominal", "legend": null}
          }
        },
        {
          "data": {"name": "subtext"},
          "mark": {"type": "text", "align": "left", "baseline": "alphabetic", "fontSize": 22},
          "encoding": {
            "x": {"field": "n", "type": "quantitative", "scale": {"type": "log", "domain": [5e16, 1e21], "nice": false}, "axis": null},
            "y": {"field": "mu", "type": "quantitative", "scale": {"type": "log", "domain": [50, 50000], "nice": false}, "axis": null},
            "text": {"field": "text"},
            "color": {"field": "mat", "type": "nominal", "legend": null}
          }
        },
        {
          "data": {"name": "legtext"},
          "mark": {"type": "text", "align": "left", "baseline": "alphabetic", "fontSize": 30, "color": "black"},
          "encoding": {
            "x": {"field": "n", "type": "quantitative", "scale": {"type": "log", "domain": [5e16, 1e21], "nice": false}, "axis": null},
            "y": {"field": "mu", "type": "quantitative", "scale": {"type": "log", "domain": [50, 50000], "nice": false}, "axis": null},
            "text": {"field": "text"}
          }
        },
        {
          "data": {"name": "etal"},
          "mark": {"type": "text", "align": "left", "baseline": "alphabetic", "fontSize": 30, "fontStyle": "italic", "color": "black"},
          "encoding": {
            "x": {"field": "n", "type": "quantitative", "scale": {"type": "log", "domain": [5e16, 1e21], "nice": false}, "axis": null},
            "y": {"field": "mu", "type": "quantitative", "scale": {"type": "log", "domain": [50, 50000], "nice": false}, "axis": null},
            "text": {"field": "text"}
          }
        },
        {
          "data": {"name": "labelB"},
          "mark": {"type": "text", "align": "left", "baseline": "alphabetic", "fontSize": 46, "color": "black"},
          "encoding": {
            "x": {"field": "n", "type": "quantitative", "scale": {"type": "log", "domain": [5e16, 1e21], "nice": false}, "axis": null},
            "y": {"field": "mu", "type": "quantitative", "scale": {"type": "log", "domain": [50, 50000], "nice": false}, "axis": null},
            "text": {"field": "text"}
          }
        }
      ]
    }
  ]
}
